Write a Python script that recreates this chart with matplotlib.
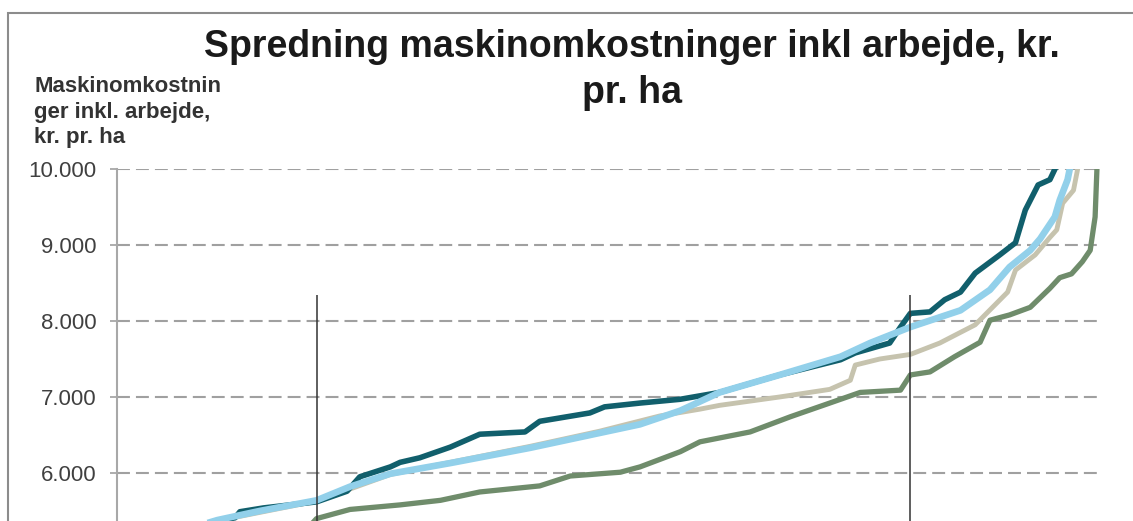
import matplotlib.pyplot as plt
from matplotlib.patches import Rectangle

plt.rcParams['font.family'] = ['Liberation Sans', 'DejaVu Sans']

# x = farms ranked by cost (percent), y = kr. pr. ha
teal_x = [8.9, 10.2, 12.0, 12.5, 14.9, 20.3, 23.4, 24.7, 27.8, 28.8, 30.8, 33.9, 36.9, 41.5, 43.0,
          48.1, 49.6, 53.2, 57.3, 61.3, 67.4, 73.6, 75.1, 78.6, 79.7, 80.7, 82.7, 84.2, 85.8,
          87.3, 89.8, 91.4, 92.4, 93.7, 94.9, 95.6]
teal_y = [5330, 5370, 5410, 5490, 5540, 5620, 5760, 5950, 6080, 6140, 6200, 6340, 6510, 6540, 6680,
          6790, 6870, 6920, 6970, 7060, 7290, 7490, 7580, 7710, 7920, 8100, 8120, 8280, 8380,
          8630, 8870, 9030, 9460, 9790, 9860, 10050]

blue_x = [8.9, 10.2, 14.5, 20.3, 23.7, 27.8, 33.9, 42.0, 53.2, 57.3, 61.3, 67.4, 73.6, 76.6,
          80.7, 85.8, 88.8, 90.8, 92.9, 93.9, 95.4, 95.9, 96.7, 97.0]
blue_y = [5330, 5380, 5500, 5640, 5820, 5990, 6130, 6330, 6640, 6820, 7060, 7290, 7530, 7710,
          7920, 8140, 8410, 8710, 8930, 9080, 9370, 9590, 9860, 10050]

beige_x = [8.9, 10.2, 20.3, 27.8, 33.9, 42.0, 49.1, 55.2, 59.3, 61.3, 67.4, 72.5, 74.6, 75.1,
           77.6, 80.7, 83.7, 87.3, 90.6, 91.4, 93.4, 94.9, 95.6, 96.2, 97.3, 97.8]
beige_y = [5330, 5370, 5630, 5980, 6140, 6350, 6550, 6750, 6840, 6890, 7000, 7100, 7220, 7420,
           7500, 7560, 7710, 7950, 8380, 8670, 8870, 9100, 9200, 9550, 9720, 10050]

green_x = [19.6, 20.3, 23.7, 28.8, 32.9, 36.9, 43.0, 46.1, 51.2, 53.2, 57.3, 59.3, 64.4, 68.5,
           72.5, 75.6, 79.7, 80.7, 82.7, 85.2, 87.8, 88.8, 90.8, 92.9, 94.9, 95.9, 97.1, 98.2,
           99.0, 99.5, 99.7]
green_y = [5300, 5400, 5520, 5580, 5640, 5750, 5830, 5960, 6010, 6080, 6280, 6410, 6540, 6740,
           6920, 7060, 7090, 7290, 7330, 7530, 7720, 8010, 8080, 8180, 8430, 8570, 8620, 8780,
           8930, 9370, 10050]

marker_x = [20.3, 80.7]
marker_top = 8340
y_ticks = [6000, 7000, 8000, 9000, 10000]

fig = plt.figure(figsize=(11.33, 5.21), dpi=100)
ax = fig.add_axes([0.1033, 0.0, 0.8676, 0.6756])

ax.plot(beige_x, beige_y, color='#c6c3ae', lw=3.5, zorder=3)
ax.plot(green_x, green_y, color='#6f8c6b', lw=3.8, zorder=3)
ax.plot(teal_x, teal_y, color='#115f6c', lw=4.0, zorder=4)
ax.plot(blue_x, blue_y, color='#92d0ea', lw=4.8, zorder=5)

ax.vlines(marker_x, 5000, marker_top, color='#333333', lw=1.1, zorder=6)

ax.set_xlim(0, 100)
ax.set_ylim(5368, 10000)
ax.set_yticks(y_ticks)
ax.set_yticklabels([f"{v:,.0f}".replace(',', '.') for v in y_ticks],
                   fontsize=16, color='#404040')
ax.set_xticks([])
ax.tick_params(axis='y', length=5, width=1.2, color='#a0a0a0', pad=10)
for s in ['top', 'right', 'bottom']:
    ax.spines[s].set_visible(False)
ax.spines['left'].set_color('#a8a8a8')
ax.spines['left'].set_linewidth(1.5)
ax.yaxis.grid(True, color='#a0a0a0', lw=1.5, dashes=(6.2, 2.9))
ax.set_axisbelow(True)

fig.text(632 / 1133, 1 - 57 / 521, 'Spredning maskinomkostninger inkl arbejde, kr.',
         ha='center', va='baseline', fontsize=27, fontweight='bold', color='#1a1a1a')
fig.text(632 / 1133, 1 - 103 / 521, 'pr. ha',
         ha='center', va='baseline', fontsize=27, fontweight='bold', color='#1a1a1a')
fig.text(34 / 1133, 1 - 143 / 521, 'Maskinomkostnin\nger inkl. arbejde,\nkr. pr. ha',
         ha='left', va='baseline', fontsize=16, fontweight='bold', color='#333333',
         linespacing=1.28)

fig.patches.append(Rectangle((8 / 1133, -0.1), 1.2, 1.1 - 13 / 521, transform=fig.transFigure,
                             fill=False, ec='#8c8c8c', lw=1.5))

fig.savefig('out.png', dpi=100)
